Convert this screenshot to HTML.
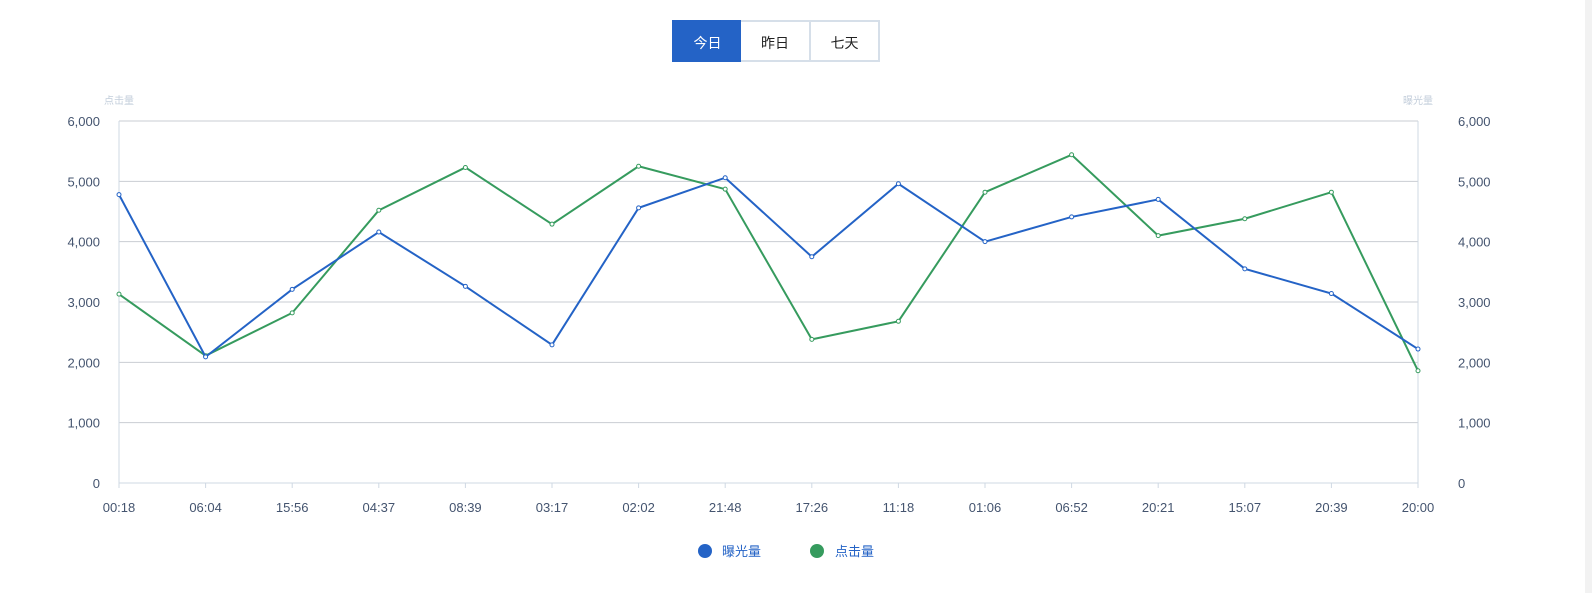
<!DOCTYPE html>
<html><head><meta charset="utf-8"><style>
body{margin:0;width:1592px;height:593px;background:#fff;overflow:hidden;font-family:"Liberation Sans","Noto Sans CJK SC",sans-serif;position:relative}
.btn{position:absolute;top:20px;height:42px;line-height:42px;text-align:center;font-size:14px;box-sizing:border-box;border:2px solid #d6dfe9;color:#222;background:#fff}
</style></head><body>
<div class="btn" style="left:672px;width:71px;background:#2463c6;border-color:#2463c6;color:#fff">今日</div>
<div class="btn" style="left:741px;width:70px;border-left:none">昨日</div>
<div class="btn" style="left:809px;width:71px">七天</div>
<div style="position:absolute;left:1585px;top:0;width:7px;height:593px;background:#f2f2f2"></div>
<svg id="chart" width="1592" height="593" style="position:absolute;left:0;top:0"></svg>
<script>
const categories=["00:18","06:04","15:56","04:37","08:39","03:17","02:02","21:48","17:26","11:18","01:06","06:52","20:21","15:07","20:39","20:00"];
const exposure=[4780,2090,3210,4160,3260,2290,4560,5060,3750,4960,4000,4410,4700,3550,3140,2220];
const clicks=[3130,2110,2820,4520,5230,4290,5250,4870,2380,2680,4820,5440,4100,4380,4820,1860];
const yTicks=[0,1000,2000,3000,4000,5000,6000];
const tickLabels=["0","1,000","2,000","3,000","4,000","5,000","6,000"];
const svg=document.getElementById('chart');const NS='http://www.w3.org/2000/svg';
const X0=119,X1=1418,Y0=483,Y1=121,YMAX=6000;
const xs=i=>X0+(X1-X0)*i/(categories.length-1);
const ys=v=>Y0-(Y0-Y1)*v/YMAX;
function el(t,a,txt){const e=document.createElementNS(NS,t);for(const k in a)e.setAttribute(k,a[k]);if(txt!=null)e.textContent=txt;svg.appendChild(e);return e;}
yTicks.forEach((v,i)=>{
 const g=el('line',{x1:X0,x2:X1,y1:ys(v),y2:ys(v),stroke:v===0?'#cfd8e3':'#c9cdd3','stroke-width':1});
 
 
 const l=el('text',{x:100,y:ys(v)+5,'text-anchor':'end','font-size':13,fill:'#44546f'},tickLabels[i]);
 
 
 const r=el('text',{x:1458,y:ys(v)+5,'text-anchor':'start','font-size':13,fill:'#44546f'},tickLabels[i]);
 
 
});
[X0,X1].forEach(x=>{const a=el('line',{x1:x,x2:x,y1:Y1,y2:Y0+5,stroke:'#cfd8e3'});
 
 });
let t1=el('text',{x:119,y:104,'text-anchor':'middle','font-size':10,fill:'#c3cedb'},'点击量');


let t2=el('text',{x:1418,y:104,'text-anchor':'middle','font-size':10,fill:'#c3cedb'},'曝光量');


categories.forEach((c,i)=>{
 const tk=el('line',{x1:xs(i),x2:xs(i),y1:Y0,y2:Y0+5,stroke:'#cfd8e3'});
 
 
 const t=el('text',{x:xs(i),y:512,'text-anchor':'middle','font-size':13,fill:'#44546f'},c);
 
 
});
function series(vals,color,name){
 const p=el('polyline',{points:vals.map((v,i)=>xs(i)+','+ys(v)).join(' '),fill:'none',stroke:color,'stroke-width':2});
 
 
 vals.forEach((v,i)=>{const c=el('circle',{cx:xs(i),cy:ys(v),r:2,fill:'#fff',stroke:color,'stroke-width':1});
 
 });
}
series(clicks,'#369b5e','clicks');
series(exposure,'#2463c6','exposure');
let c1=el('circle',{cx:705,cy:551,r:7,fill:'#2463c6'});


let l1=el('text',{x:722,y:556,'font-size':13,fill:'#2463c6'},'曝光量');


let c2=el('circle',{cx:817,cy:551,r:7,fill:'#369b5e'});


let l2=el('text',{x:835,y:556,'font-size':13,fill:'#2463c6'},'点击量');


</script>
</body></html>
